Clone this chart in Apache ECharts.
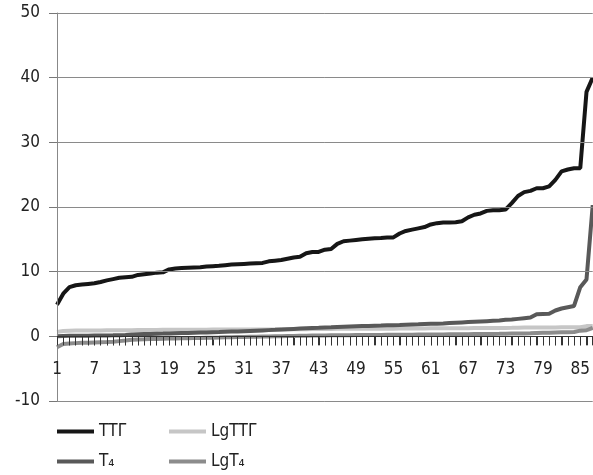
<!DOCTYPE html>
<html>
<head>
<meta charset="utf-8">
<script src="https://cdn.jsdelivr.net/npm/echarts@6/dist/echarts.min.js"></script>
<style>
html,body{margin:0;padding:0;background:#fff;overflow:hidden;}
#chart{width:593px;height:475px;}
</style>
</head>
<body>
<div id="chart"></div>
<script>
// Categories 1..87 (labels shown every 6th: 1, 7, 13, ... 85)
const categories = [
  '1','2','3','4','5','6','7','8','9','10',
  '11','12','13','14','15','16','17','18','19','20',
  '21','22','23','24','25','26','27','28','29','30',
  '31','32','33','34','35','36','37','38','39','40',
  '41','42','43','44','45','46','47','48','49','50',
  '51','52','53','54','55','56','57','58','59','60',
  '61','62','63','64','65','66','67','68','69','70',
  '71','72','73','74','75','76','77','78','79','80',
  '81','82','83','84','85','86','87'
];

const seriesNames = ['ТТГ', 'LgТТГ', 'T₄', 'LgT₄'];

const ttg = [
  4.9, 6.6, 7.6, 7.9, 8.0, 8.1, 8.2, 8.4, 8.65, 8.85,
  9.05, 9.15, 9.2, 9.5, 9.6, 9.7, 9.85, 9.9, 10.35, 10.5,
  10.55, 10.6, 10.65, 10.7, 10.8, 10.85, 10.9, 11.0, 11.1, 11.15,
  11.2, 11.25, 11.3, 11.35, 11.6, 11.7, 11.8, 12.0, 12.2, 12.3,
  12.85, 13.05, 13.05, 13.4, 13.5, 14.3, 14.7, 14.8, 14.9, 15.0,
  15.1, 15.15, 15.2, 15.3, 15.3, 15.9, 16.3, 16.5, 16.7, 16.9,
  17.3, 17.5, 17.6, 17.6, 17.65, 17.8, 18.4, 18.8, 19.0, 19.4,
  19.5, 19.5, 19.6, 20.6, 21.7, 22.3, 22.5, 22.9, 22.9, 23.2,
  24.2, 25.5, 25.8, 26.0, 26.0, 37.8, 40.0
];

const lgTtg = [
  0.69, 0.82, 0.88, 0.90, 0.90, 0.91, 0.91, 0.92, 0.94, 0.95,
  0.96, 0.96, 0.96, 0.98, 0.98, 0.99, 0.99, 1.00, 1.01, 1.02,
  1.02, 1.03, 1.03, 1.03, 1.03, 1.04, 1.04, 1.04, 1.05, 1.05,
  1.05, 1.05, 1.05, 1.06, 1.06, 1.07, 1.07, 1.08, 1.09, 1.09,
  1.11, 1.12, 1.12, 1.13, 1.13, 1.16, 1.17, 1.17, 1.17, 1.18,
  1.18, 1.18, 1.18, 1.18, 1.18, 1.20, 1.21, 1.22, 1.22, 1.23,
  1.24, 1.24, 1.25, 1.25, 1.25, 1.25, 1.26, 1.27, 1.28, 1.29,
  1.29, 1.29, 1.29, 1.31, 1.34, 1.35, 1.35, 1.36, 1.36, 1.37,
  1.38, 1.41, 1.41, 1.41, 1.41, 1.58, 1.60
];

const t4 = [
  0.02, 0.06, 0.08, 0.09, 0.10, 0.10, 0.11, 0.12, 0.13, 0.15,
  0.18, 0.22, 0.30, 0.33, 0.35, 0.37, 0.40, 0.42, 0.45, 0.48,
  0.50, 0.52, 0.55, 0.58, 0.60, 0.63, 0.66, 0.70, 0.73, 0.76,
  0.80, 0.84, 0.88, 0.92, 0.96, 1.00, 1.05, 1.10, 1.15, 1.20,
  1.25, 1.30, 1.33, 1.37, 1.40, 1.44, 1.48, 1.52, 1.55, 1.58,
  1.60, 1.63, 1.66, 1.70, 1.73, 1.76, 1.80, 1.83, 1.86, 1.90,
  1.93, 1.96, 2.00, 2.05, 2.10, 2.15, 2.20, 2.25, 2.30, 2.35,
  2.40, 2.45, 2.55, 2.60, 2.70, 2.80, 2.90, 3.40, 3.45, 3.50,
  4.00, 4.30, 4.50, 4.70, 7.60, 8.80, 20.3
];

const lgT4 = [
  -1.70, -1.20, -1.10, -1.05, -1.00, -1.00, -0.96, -0.92, -0.89, -0.82,
  -0.74, -0.66, -0.52, -0.48, -0.46, -0.43, -0.40, -0.38, -0.35, -0.32,
  -0.30, -0.28, -0.26, -0.24, -0.22, -0.20, -0.18, -0.15, -0.14, -0.12,
  -0.10, -0.08, -0.06, -0.04, -0.02, 0.00, 0.02, 0.04, 0.06, 0.08,
  0.10, 0.11, 0.12, 0.14, 0.15, 0.16, 0.17, 0.18, 0.19, 0.20,
  0.20, 0.21, 0.22, 0.23, 0.24, 0.25, 0.26, 0.26, 0.27, 0.28,
  0.29, 0.29, 0.30, 0.31, 0.32, 0.33, 0.34, 0.35, 0.36, 0.37,
  0.38, 0.39, 0.41, 0.42, 0.43, 0.45, 0.46, 0.53, 0.54, 0.54,
  0.60, 0.63, 0.65, 0.67, 0.88, 0.94, 1.31
];

const yTicks = [-10, 0, 10, 20, 30, 40, 50];

const colors = ['#161616', '#c6c6c6', '#595959', '#8c8c8c'];
const seriesData = [ttg, lgTtg, t4, lgT4];

const FONT = '"DejaVu Sans Condensed", "DejaVu Sans", sans-serif';

const GRID = {left: 57, right: 0, top: 13, bottom: 74};
const H = 475;
const plotH = H - GRID.top - GRID.bottom;
const yMin = yTicks[0], yMax = yTicks[yTicks.length - 1];
// pixel position of the value 0 inside the plot
const zeroFromTop = plotH * (yMax - 0) / (yMax - yMin);
// shift the category axis from the bottom of the grid up to the value 0
const zeroOffset = -plotH * (0 - yMin) / (yMax - yMin);
const TICK_LEN = 9;

const chart = echarts.init(document.getElementById('chart'));

const legendPos = [
  {left: 57, top: 423},
  {left: 169, top: 423},
  {left: 57, top: 453},
  {left: 169, top: 453}
];

const option = {
  animation: false,
  grid: [
    {left: GRID.left, right: GRID.right, top: GRID.top, bottom: GRID.bottom},
    // thin strip just under the zero line, used for the category tick marks
    {left: GRID.left, right: GRID.right, top: GRID.top + zeroFromTop, height: TICK_LEN}
  ],
  legend: seriesNames.map((n, i) => ({
    data: [n],
    left: legendPos[i].left,
    top: legendPos[i].top,
    icon: 'rect',
    itemWidth: 37,
    itemHeight: 4,
    itemGap: 0,
    padding: 0,
    selectedMode: false,
    textStyle: {fontFamily: FONT, fontSize: 17, color: '#222'}
  })),
  xAxis: [
    {
      gridIndex: 0,
      type: 'category',
      data: categories,
      boundaryGap: false,
      position: 'bottom',
      offset: zeroOffset,
      z: 10,
      axisLine: {onZero: false, lineStyle: {color: '#333'}},
      axisTick: {show: true, interval: 0, length: TICK_LEN, lineStyle: {color: '#333', width: 1}},
      axisLabel: {interval: 5, margin: 25, fontFamily: FONT, fontSize: 17, color: '#222'}
    },
    {
      gridIndex: 1,
      type: 'category',
      data: categories,
      boundaryGap: false,
      axisLine: {show: false},
      axisTick: {show: false},
      axisLabel: {show: false},
      splitLine: {show: true, interval: 0, lineStyle: {color: '#333', width: 1}}
    }
  ],
  yAxis: [
    {
      gridIndex: 0,
      type: 'value',
      min: yMin,
      max: yMax,
      interval: 10,
      z: 10,
      axisLine: {show: true, lineStyle: {color: '#888'}},
      axisTick: {show: true, length: 8, lineStyle: {color: '#777', width: 1}},
      axisLabel: {margin: 17, fontFamily: FONT, fontSize: 17, color: '#222'},
      splitLine: {show: true, lineStyle: {color: '#8a8a8a', width: 1}}
    },
    {
      gridIndex: 1,
      type: 'value',
      min: 0,
      max: 1,
      show: false
    }
  ],
  series: seriesNames.map((n, i) => ({
    name: n,
    type: 'line',
    xAxisIndex: 0,
    yAxisIndex: 0,
    data: seriesData[i],
    symbol: 'none',
    color: colors[i],
    lineStyle: {color: colors[i], width: 4}
  }))
};

chart.setOption(option);
</script>
</body>
</html>
